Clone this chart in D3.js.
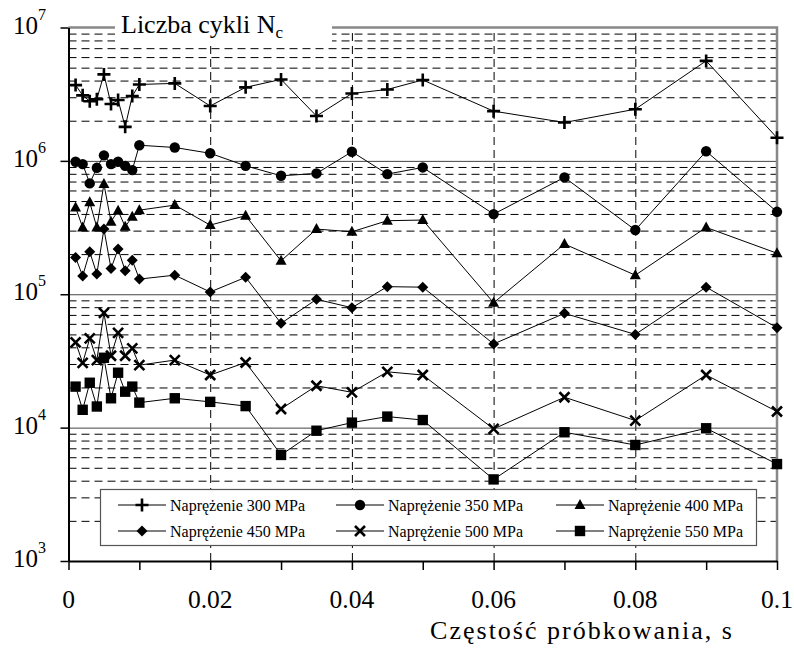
<!DOCTYPE html>
<html>
<head>
<meta charset="utf-8">
<script src="https://cdn.jsdelivr.net/npm/d3@7"></script>
<style>
  body { margin: 0; background: #fff; }
  text { font-family: "Liberation Serif", "Times New Roman", serif; fill: #000; }
</style>
</head>
<body>
<script>
  var xValues = [0.001, 0.002, 0.003, 0.004, 0.005, 0.006, 0.007, 0.008, 0.009, 0.01,
                 0.015, 0.02, 0.025, 0.03, 0.035, 0.04, 0.045, 0.05, 0.06, 0.07, 0.08, 0.09, 0.1];

  var s300 = [3.7e6, 3.1e6, 2.8e6, 2.9e6, 4.45e6, 2.67e6, 2.86e6, 1.8e6, 3.06e6, 3.74e6,
              3.81e6, 2.58e6, 3.56e6, 4.08e6, 2.17e6, 3.2e6, 3.43e6, 4.04e6, 2.36e6, 1.94e6, 2.44e6, 5.62e6, 1.49e6];
  var s350 = [9.85e5, 9.46e5, 6.78e5, 8.87e5, 1.1e6, 9.46e5, 9.85e5, 9.18e5, 8.53e5, 1.31e6,
              1.26e6, 1.14e6, 9.18e5, 7.73e5, 8.05e5, 1.17e6, 7.96e5, 8.93e5, 3.99e5, 7.52e5, 3.03e5, 1.18e6, 4.15e5];
  var s400 = [4.48e5, 3.17e5, 4.89e5, 3.17e5, 6.7e5, 3.5e5, 4.23e5, 3.21e5, 3.81e5, 4.27e5,
              4.66e5, 3.3e5, 3.88e5, 1.78e5, 3.08e5, 2.94e5, 3.56e5, 3.6e5, 8.63e4, 2.38e5, 1.39e5, 3.17e5, 2.03e5];
  var s450 = [1.89e5, 1.37e5, 2.08e5, 1.42e5, 3.08e5, 1.56e5, 2.18e5, 1.5e5, 1.8e5, 1.3e5,
              1.39e5, 1.04e5, 1.34e5, 6.05e4, 9.16e4, 7.93e4, 1.14e5, 1.13e5, 4.24e4, 7.19e4, 5.0e4, 1.13e5, 5.61e4];
  var s500 = [4.36e4, 3.06e4, 4.67e4, 3.21e4, 7.26e4, 3.46e4, 5.14e4, 3.46e4, 3.93e4, 2.94e4,
              3.21e4, 2.48e4, 3.08e4, 1.38e4, 2.06e4, 1.84e4, 2.62e4, 2.48e4, 9.78e3, 1.69e4, 1.13e4, 2.48e4, 1.32e4];
  var s550 = [2.03e4, 1.36e4, 2.17e4, 1.44e4, 3.34e4, 1.66e4, 2.58e4, 1.86e4, 2.03e4, 1.54e4,
              1.66e4, 1.56e4, 1.45e4, 6.24e3, 9.48e3, 1.09e4, 1.21e4, 1.14e4, 4.09e3, 9.23e3, 7.41e3, 9.89e3, 5.33e3];

  var seriesNames = ["Naprężenie 300 MPa", "Naprężenie 350 MPa", "Naprężenie 400 MPa",
                     "Naprężenie 450 MPa", "Naprężenie 500 MPa", "Naprężenie 550 MPa"];
  var seriesMarkers = ["plus", "circle", "triangle", "diamond", "cross", "square"];

  var yTicks = [1e3, 1e4, 1e5, 1e6, 1e7];
  var yTickExponents = ["3", "4", "5", "6", "7"];
  var xTicks = [0, 0.01, 0.02, 0.03, 0.04, 0.05, 0.06, 0.07, 0.08, 0.09, 0.1];
  var xLabelTicks = [0, 0.02, 0.04, 0.06, 0.08, 0.1];
  var xTickLabels = ["0", "0.02", "0.04", "0.06", "0.08", "0.1"];
  var xGridTicks = [0.02, 0.04, 0.06, 0.08];

  var w = 794;
  var h = 648;

  var margin = {
    top: 27.5,
    bottom: 87,
    left: 68.5,
    right: 17
  };

  var width = w - margin.left - margin.right;
  var height = h - margin.top - margin.bottom;

  var svg = d3.select("body").append("svg")
              .attr("width", w)
              .attr("height", h);

  var chart = svg.append("g")
              .attr("transform", "translate(" + margin.left + "," + margin.top + ")");

  var x = d3.scaleLinear()
            .domain([0, 0.1])
            .range([0, width]);

  var y = d3.scaleLog()
            .domain([1e3, 1e7])
            .range([height, 0]);

  var minorTicks = y.ticks().filter(function(v){
    return Math.abs(Math.log10(v) - Math.round(Math.log10(v))) > 1e-9;
  });

  // horizontal gridlines, dashed for 2..9, solid for decades
  var yMinorGrid = d3.axisLeft(y)
                    .tickValues(minorTicks)
                    .tickSize(-width)
                    .tickFormat("");
  var yMajorGrid = d3.axisLeft(y)
                    .tickValues([1e4, 1e5, 1e6])
                    .tickSize(-width)
                    .tickFormat("");
  var xGrid = d3.axisBottom(x)
                .tickValues(xGridTicks)
                .tickSize(-height)
                .tickFormat("");

  chart.append("g")
      .attr("class", "grid")
      .call(yMinorGrid)
      .call(function(g){ g.select(".domain").remove(); })
      .selectAll("line")
        .attr("stroke", "#000")
        .attr("stroke-dasharray", "8,5");

  chart.append("g")
      .attr("class", "grid")
      .attr("transform", "translate(0," + height + ")")
      .call(xGrid)
      .call(function(g){ g.select(".domain").remove(); })
      .selectAll("line")
        .attr("stroke", "#000")
        .attr("stroke-dasharray", "8,5");

  chart.append("g")
      .attr("class", "grid")
      .call(yMajorGrid)
      .call(function(g){ g.select(".domain").remove(); })
      .selectAll("line")
        .attr("stroke", "#444");

  // top and right frame
  chart.append("path")
      .attr("d", "M0,0H" + width + "V" + height)
      .attr("fill", "none")
      .attr("stroke", "#888")
      .attr("stroke-width", 2.5);

  // axes
  var yAxis = d3.axisLeft(y)
                .tickValues(yTicks)
                .tickSize(8)
                .tickSizeOuter(0)
                .tickFormat("");
  var xAxis = d3.axisBottom(x)
                .tickValues(xTicks)
                .tickSize(9)
                .tickSizeOuter(0)
                .tickFormat("");

  chart.append("g")
      .attr("class", "y axis")
      .call(yAxis)
      .call(function(g){
        g.select(".domain").attr("stroke-width", 2);
        g.selectAll("line").attr("stroke-width", 1.5);
      });

  chart.append("g")
      .attr("class", "x axis")
      .attr("transform", "translate(0," + height + ")")
      .call(xAxis)
      .call(function(g){
        g.select(".domain").attr("stroke-width", 2);
        g.selectAll("line").attr("stroke-width", 1.5);
      });

  // y tick labels 10^n
  var yLabels = chart.selectAll(".ylabel")
      .data(yTicks)
      .enter()
        .append("text")
        .attr("class", "ylabel")
        .attr("x", -55.5)
        .attr("y", function(d){ return y(d) + 6; })
        .style("font-size", "25px");
  yLabels.append("tspan").text("10");
  yLabels.append("tspan")
      .attr("dy", -14)
      .style("font-size", "16px")
      .text(function(d, i){ return yTickExponents[i]; });

  // x tick labels
  chart.selectAll(".xlabel")
      .data(xLabelTicks)
      .enter()
        .append("text")
        .attr("class", "xlabel")
        .attr("x", function(d){ return x(d); })
        .attr("y", height + 47)
        .attr("text-anchor", "middle")
        .style("font-size", "25.5px")
        .text(function(d, i){ return xTickLabels[i]; });

  // markers
  function markerPath(type){
    if (type === "plus") return "M-6.5,0H6.5M0,-6.5V6.5";
    if (type === "cross") return "M-5,-5L5,5M-5,5L5,-5";
    if (type === "circle") return d3.symbol(d3.symbolCircle, 85)();
    if (type === "triangle") return "M0,-6L5.5,4L-5.5,4Z";
    if (type === "diamond") return "M0,-5.5L5.5,0L0,5.5L-5.5,0Z";
    return "M-5.2,-5.2H5.2V5.2H-5.2Z";
  }

  function drawMarker(sel, type){
    var stroked = (type === "plus" || type === "cross");
    sel.append("path")
      .attr("d", markerPath(type))
      .attr("fill", stroked ? "none" : "#000")
      .attr("stroke", stroked ? "#000" : "none")
      .attr("stroke-width", stroked ? 2.6 : 0);
  }

  var line = d3.line()
              .x(function(d, i){ return x(xValues[i]); })
              .y(function(d){ return y(d); });

  var allSeries = [s300, s350, s400, s450, s500, s550];

  allSeries.forEach(function(values, k){
    chart.append("path")
        .datum(values)
        .attr("fill", "none")
        .attr("stroke", "#000")
        .attr("stroke-width", 1)
        .attr("d", line);

    chart.selectAll(".pt" + k)
        .data(values)
        .enter()
          .append("g")
          .attr("class", "pt" + k)
          .attr("transform", function(d, i){
            return "translate(" + x(xValues[i]) + "," + y(d) + ")";
          })
          .each(function(){ drawMarker(d3.select(this), seriesMarkers[k]); });
  });

  // title box over the gridlines
  svg.append("rect")
      .attr("x", 115)
      .attr("y", 0)
      .attr("width", 217)
      .attr("height", 42)
      .attr("fill", "#fff");

  var title = svg.append("text")
      .attr("x", 121)
      .attr("y", 33)
      .style("font-size", "26px");
  title.append("tspan").text("Liczba cykli N");
  title.append("tspan")
      .attr("dy", 5)
      .style("font-size", "17px")
      .text("c");

  svg.append("text")
      .attr("x", 582)
      .attr("y", 639)
      .attr("text-anchor", "middle")
      .style("font-size", "26px")
      .style("letter-spacing", "2px")
      .text("Częstość próbkowania, s");

  // legend
  var legend = svg.append("g");
  legend.append("rect")
      .attr("x", 100.5)
      .attr("y", 489.5)
      .attr("width", 656)
      .attr("height", 56)
      .attr("fill", "#fff")
      .attr("stroke", "#555")
      .attr("stroke-width", 1.2);

  var legendCols = [118, 336, 556];
  var legendRows = [505, 531];

  seriesNames.forEach(function(name, k){
    var lx = legendCols[k % 3];
    var ly = legendRows[Math.floor(k / 3)];
    var item = legend.append("g").attr("transform", "translate(" + lx + "," + ly + ")");
    item.append("line")
        .attr("x1", 0).attr("x2", 48)
        .attr("stroke", "#000");
    var m = item.append("g").attr("transform", "translate(24,0)");
    drawMarker(m, seriesMarkers[k]);
    item.append("text")
        .attr("x", 52)
        .attr("y", 5.5)
        .style("font-size", "16px")
        .text(name);
  });
</script>
</body>
</html>
